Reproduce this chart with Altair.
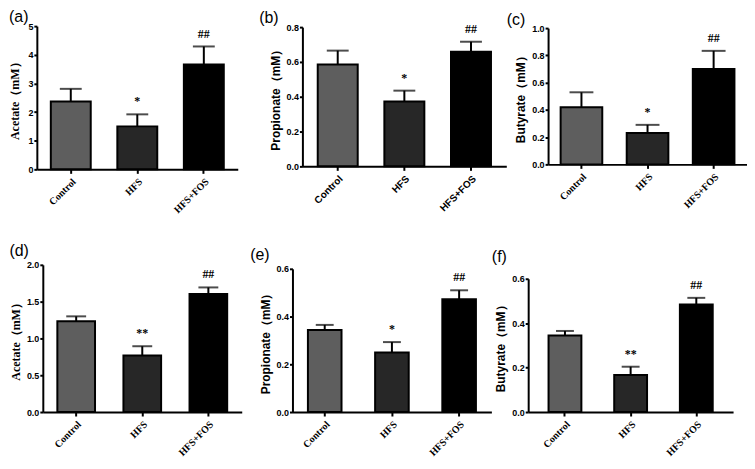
import altair as alt
import pandas as pd

groups = ["Control", "HFS", "HFS+FOS"]
bar_colors = ["#5e5e5e", "#272727", "#000000"]

# panel (a) Acetate
a_mean = [2.37, 1.50, 3.66]
a_upper = [2.81, 1.92, 4.29]
a_sig = ["", "*", "##"]
a_ticks = [0, 1, 2, 3, 4, 5]

# panel (b) Propionate
b_mean = [0.585, 0.372, 0.659]
b_upper = [0.665, 0.435, 0.716]
b_sig = ["", "*", "##"]
b_ticks = [0.0, 0.2, 0.4, 0.6, 0.8]

# panel (c) Butyrate
c_mean = [0.420, 0.231, 0.700]
c_upper = [0.529, 0.290, 0.833]
c_sig = ["", "*", "##"]
c_ticks = [0.0, 0.2, 0.4, 0.6, 0.8, 1.0]

# panel (d) Acetate
d_mean = [1.232, 0.767, 1.603]
d_upper = [1.300, 0.894, 1.693]
d_sig = ["", "**", "##"]
d_ticks = [0.0, 0.5, 1.0, 1.5, 2.0]

# panel (e) Propionate
e_mean = [0.344, 0.249, 0.472]
e_upper = [0.365, 0.293, 0.510]
e_sig = ["", "*", "##"]
e_ticks = [0.0, 0.2, 0.4, 0.6]

# panel (f) Butyrate
f_mean = [0.345, 0.167, 0.484]
f_upper = [0.365, 0.204, 0.514]
f_sig = ["", "**", "##"]
f_ticks = [0.0, 0.2, 0.4, 0.6]

labels = ["(a)", "(b)", "(c)", "(d)", "(e)", "(f)"]
y_titles = ["Acetate（mM）", "Propionate（mM）", "Butyrate（mM）",
            "Acetate（mM）", "Propionate（mM）", "Butyrate（mM）"]

SERIF = "Liberation Serif"
SANS = "Liberation Sans"


def panel(label, ytitle, means, uppers, sigs, ticks, fmt, width, height, top_gap,
          p_in, p_out, cap, title_font, xlab_font, title_pad, tdx, tdy, toff,
          shift=0):
    df = pd.DataFrame({"group": groups, "mean": means, "upper": uppers, "sig": sigs})
    ymax = ticks[-1]
    xenc = alt.X(
        "group:N", sort=groups,
        scale=alt.Scale(paddingInner=p_in, paddingOuter=p_out,
                        range=[shift, width + shift]),
        axis=alt.Axis(title=None, labelAngle=315, labelFont=xlab_font,
                      labelFontWeight="bold", labelFontSize=10, labelColor="black",
                      domainColor="black", domainWidth=2, tickColor="black",
                      tickWidth=2, tickSize=4, labelPadding=3),
    )
    yscale = alt.Scale(domain=[0, ymax], nice=False, zero=True,
                       range=[height, top_gap])
    yaxis = alt.Axis(title=ytitle, values=ticks, format=fmt, grid=False,
                     labelOverlap=False, offset=-shift,
                     labelFont=SANS, labelFontWeight="bold", labelFontSize=9,
                     labelColor="black", domainColor="black", domainWidth=2,
                     tickColor="black", tickWidth=2, tickSize=3, labelPadding=1,
                     titleFont=title_font, titleFontWeight="bold", titleFontSize=12,
                     titleColor="black", titlePadding=title_pad)
    base = alt.Chart(df)
    bars = base.mark_bar(stroke="black", strokeWidth=2).encode(
        x=xenc,
        y=alt.Y("mean:Q", scale=yscale, axis=yaxis),
        color=alt.Color("group:N", scale=alt.Scale(domain=groups, range=bar_colors), legend=None),
    )
    rule = base.mark_rule(color="black", strokeWidth=2).encode(
        x=alt.X("group:N", sort=groups),
        y=alt.Y("mean:Q", scale=yscale, axis=yaxis),
        y2="upper:Q",
    )
    capm = base.mark_tick(color="black", thickness=2, size=cap).encode(
        x=alt.X("group:N", sort=groups),
        y=alt.Y("upper:Q", scale=yscale, axis=yaxis),
    )
    txt = base.mark_text(font=SERIF, fontWeight="bold", fontSize=12, color="black",
                         baseline="middle", dy=-13).encode(
        x=alt.X("group:N", sort=groups),
        y=alt.Y("upper:Q", scale=yscale, axis=yaxis),
        text="sig:N",
    )
    return alt.layer(bars, rule, capm, txt).properties(
        width=width, height=height,
        title=alt.Title(label, anchor="start", frame="bounds", fontSize=16,
                        fontWeight="normal", font=SANS, color="black",
                        offset=toff, dx=tdx, dy=tdy),
    )


pa = panel(labels[0], y_titles[0], a_mean, a_upper, a_sig, a_ticks, "d",
           202, 144, 0, 0.40, 0.21, 22, SERIF, SERIF, 6, 0, 0, -3)
pb = panel(labels[1], y_titles[1], b_mean, b_upper, b_sig, b_ticks, ".1f",
           205, 141, 1, 0.40, 0.23, 22, SANS, SANS, 4, -10, 0, -3)
pc = panel(labels[2], y_titles[2], c_mean, c_upper, c_sig, c_ticks, ".1f",
           200, 139, 2, 0.37, 0.19, 24, SANS, SERIF, 4, -8, 1, -3)
pd_ = panel(labels[3], y_titles[3], d_mean, d_upper, d_sig, d_ticks, ".1f",
            200, 148, 0, 0.43, 0.22, 20, SERIF, SERIF, 4, 0, 0, 2, shift=6)
pe = panel(labels[4], y_titles[4], e_mean, e_upper, e_sig, e_ticks, ".1f",
           200, 148, 4, 0.50, 0.23, 18, SANS, SERIF, 4, -9, 0, 2)
pf = panel(labels[5], y_titles[5], f_mean, f_upper, f_sig, f_ticks, ".1f",
           206, 148, 14, 0.50, 0.31, 18, SANS, SERIF, 4, -3, 2, 2)

row1 = alt.hconcat(alt.hconcat(pa, pb, spacing=21), pc, spacing=0)
row2 = alt.hconcat(alt.hconcat(pd_, pe, spacing=14), pf, spacing=0)

chart = alt.concat(row1, row2, columns=1, align="none", spacing=28).properties(
    padding=0, background="white"
).configure_view(stroke=None)

chart.save("out.html", embed_options={"renderer": "svg", "actions": False})
